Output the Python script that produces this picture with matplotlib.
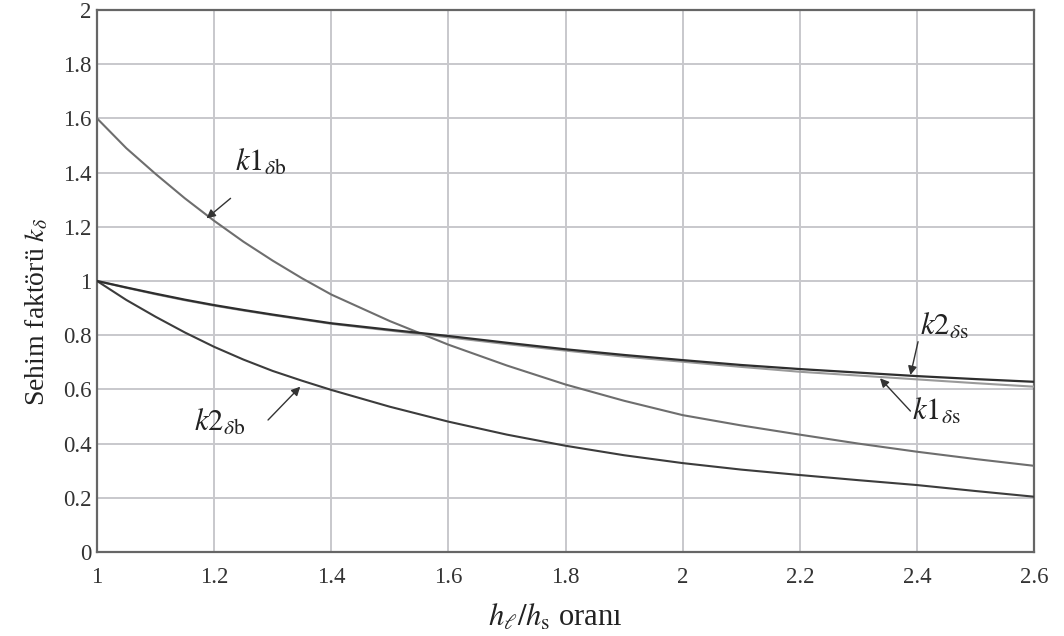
import matplotlib
matplotlib.use("Agg")
import matplotlib.pyplot as plt

plt.rcParams['font.family'] = ['Liberation Serif', 'DejaVu Serif']
plt.rcParams['mathtext.fontset'] = 'stix'

# Data
x = [1.0, 1.05, 1.1, 1.15, 1.2, 1.25, 1.3, 1.35, 1.4, 1.5, 1.6, 1.7, 1.8, 1.9, 2.0, 2.1, 2.2, 2.3, 2.4, 2.5, 2.6]
k1_db = [1.60, 1.49, 1.395, 1.305, 1.222, 1.145, 1.075, 1.01, 0.95, 0.852, 0.765, 0.688, 0.618, 0.558, 0.505, 0.467, 0.433, 0.40, 0.37, 0.343, 0.318]
k2_ds = [1.00, 0.976, 0.953, 0.931, 0.911, 0.893, 0.876, 0.86, 0.844, 0.82, 0.797, 0.772, 0.748, 0.727, 0.708, 0.69, 0.675, 0.662, 0.649, 0.638, 0.628]
k1_ds = [1.00, 0.975, 0.951, 0.929, 0.909, 0.891, 0.874, 0.858, 0.842, 0.817, 0.792, 0.767, 0.743, 0.721, 0.702, 0.683, 0.665, 0.651, 0.637, 0.623, 0.61]
k2_db = [1.00, 0.93, 0.868, 0.81, 0.757, 0.71, 0.668, 0.632, 0.598, 0.536, 0.481, 0.433, 0.392, 0.357, 0.328, 0.304, 0.284, 0.265, 0.247, 0.225, 0.204]

x_ticks = [1, 1.2, 1.4, 1.6, 1.8, 2, 2.2, 2.4, 2.6]
x_tick_labels = ['1', '1.2', '1.4', '1.6', '1.8', '2', '2.2', '2.4', '2.6']
y_ticks = [0, 0.2, 0.4, 0.6, 0.8, 1, 1.2, 1.4, 1.6, 1.8, 2]
y_tick_labels = ['0', '0.2', '0.4', '0.6', '0.8', '1', '1.2', '1.4', '1.6', '1.8', '2']

fig = plt.figure(figsize=(10.64, 6.36), dpi=100)
ax = fig.add_axes([0.0912, 0.1321, 0.8806, 0.8522])

ax.plot(x, k1_db, color='#6e6e6e', lw=1.5, zorder=3)
ax.plot(x, k1_ds, color='#9a9a9a', lw=1.5, zorder=3)
ax.plot(x, k2_ds, color='#2e2e2e', lw=1.6, zorder=4)
ax.plot(x, k2_db, color='#3c3c3c', lw=1.5, zorder=3)

ax.set_xlim(1, 2.6)
ax.set_ylim(0, 2)
ax.set_xticks(x_ticks)
ax.set_xticklabels(x_tick_labels)
ax.set_yticks(y_ticks)
ax.set_yticklabels(y_tick_labels)
ax.tick_params(axis='both', length=0, labelsize=16.5, colors='#333333')
ax.tick_params(axis='x', pad=11)
ax.tick_params(axis='y', pad=4)
ax.grid(True, color='#c8c8cc', lw=1.4)
ax.set_axisbelow(True)
for s in ax.spines.values():
    s.set_color('#666666')
    s.set_linewidth(1.6)

ax.set_ylabel(r'Sehim faktörü $k_{\delta}$', fontsize=20, color='#222222')
ax.set_xlabel(r'$h_{\ell}/h_{\mathrm{s}}$ oranı', fontsize=22, color='#222222')
ax.yaxis.set_label_coords(-0.05, 0.443)
ax.xaxis.set_label_coords(0.489, -0.093)

arrow = dict(arrowstyle='-|>', color='#333333', lw=1.0, mutation_scale=13, shrinkA=0, shrinkB=0)
tfs = 22
ax.annotate(r'$k1_{\delta\mathrm{b}}$', xy=(1.187, 1.231), xytext=(1.235, 1.435),
            fontsize=tfs, color='#222222', va='center', ha='left')
ax.annotate('', xy=(1.187, 1.231), xytext=(1.228, 1.305), arrowprops=arrow)

ax.annotate(r'$k2_{\delta\mathrm{b}}$', xy=(1.347, 0.61), xytext=(1.165, 0.476),
            fontsize=tfs, color='#222222', va='center', ha='left')
ax.annotate('', xy=(1.347, 0.61), xytext=(1.292, 0.487), arrowprops=arrow)

ax.annotate(r'$k2_{\delta\mathrm{s}}$', xy=(2.389, 0.653), xytext=(2.405, 0.83),
            fontsize=tfs, color='#222222', va='center', ha='left')
ax.annotate('', xy=(2.389, 0.653), xytext=(2.402, 0.776), arrowprops=arrow)

ax.annotate(r'$k1_{\delta\mathrm{s}}$', xy=(2.337, 0.641), xytext=(2.392, 0.518),
            fontsize=tfs, color='#222222', va='center', ha='left')
ax.annotate('', xy=(2.337, 0.641), xytext=(2.389, 0.52), arrowprops=arrow)

fig.savefig('out.png', dpi=100, facecolor='white')
